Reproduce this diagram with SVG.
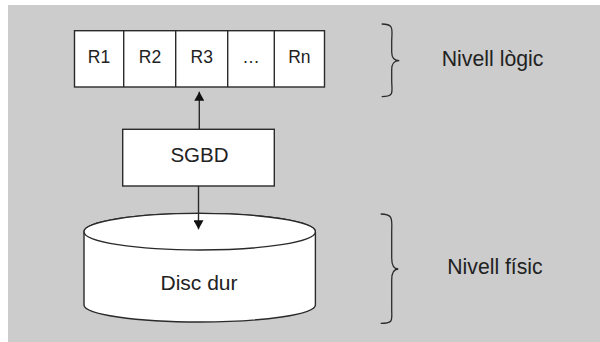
<svg xmlns="http://www.w3.org/2000/svg" width="600" height="342" viewBox="0 0 600 342">
<style>
.bg{fill:#cccccc}
.box{fill:#ffffff;stroke:#2a2a2a;stroke-width:1.4}
.ln{fill:none;stroke:#2a2a2a;stroke-width:1.4}
.br{fill:none;stroke:#2a2a2a;stroke-width:1.3}
text{font-family:"Liberation Sans",Arial,sans-serif;fill:#222222}
.c{text-anchor:middle}
</style>
<defs>
<marker id="ah" markerWidth="10" markerHeight="10" refX="9" refY="5" orient="auto" markerUnits="userSpaceOnUse">
<path d="M0,0 L9,5 L0,10 Z" fill="#111111"/>
</marker>
</defs>
<rect class="bg" x="8" y="5" width="592" height="337"/>
<g id="relations">
<rect class="box" x="74.5" y="30.7" width="250" height="56.3"/>
<line class="ln" x1="123.7" y1="30.7" x2="123.7" y2="87"/>
<line class="ln" x1="175.7" y1="30.7" x2="175.7" y2="87"/>
<line class="ln" x1="227.7" y1="30.7" x2="227.7" y2="87"/>
<line class="ln" x1="274.3" y1="30.7" x2="274.3" y2="87"/>
<text class="c" x="99" y="62.7" font-size="17.5">R1</text>
<text class="c" x="150" y="62.7" font-size="17.5">R2</text>
<text class="c" x="201.7" y="62.7" font-size="17.5">R3</text>
<text class="c" x="251" y="62.7" font-size="17.5">…</text>
<text class="c" x="299.4" y="62.7" font-size="17.5">Rn</text>
</g>
<g id="sgbd">
<rect class="box" x="122.7" y="129.3" width="151.6" height="56.7"/>
<text class="c" x="199.5" y="161.7" font-size="20.5">SGBD</text>
</g>
<g id="disc">
<path class="box" d="M84,231.7 L84,305 A115.7,17 0 0 0 315.4,305 L315.4,231.7 A115.7,18.3 0 0 0 84,231.7 Z"/>
<ellipse class="box" cx="199.7" cy="231.7" rx="115.7" ry="18.3"/>
<text class="c" x="199" y="290" font-size="21">Disc dur</text>
</g>
<g id="logic-level">
<path class="br" d="M381.7,24 C395,24 391.7,30 391.7,42 L391.7,52 C391.7,58 394,60.7 399.3,60.7 C394,60.7 391.7,63 391.7,70 L391.7,80 C391.7,92 395,96.7 381.7,96.7"/>
<text x="441.7" y="65.7" font-size="21.3">Nivell lògic</text>
</g>
<g id="physical-level">
<path class="br" d="M380.7,214 C394,214 391.7,220 391.7,232 L391.7,258 C391.7,265 394,269 398.3,269 C394,269 391.7,273 391.7,280 L391.7,310 C391.7,320 394,323.3 380.7,323.3"/>
<text x="447.3" y="274" font-size="21.2">Nivell físic</text>
</g>
<g id="connectors">
<line class="ln" x1="199.3" y1="129.3" x2="199.3" y2="91.7" marker-end="url(#ah)"/>
<line class="ln" x1="198.5" y1="186" x2="198.5" y2="229.3" marker-end="url(#ah)"/>
</g>
</svg>
